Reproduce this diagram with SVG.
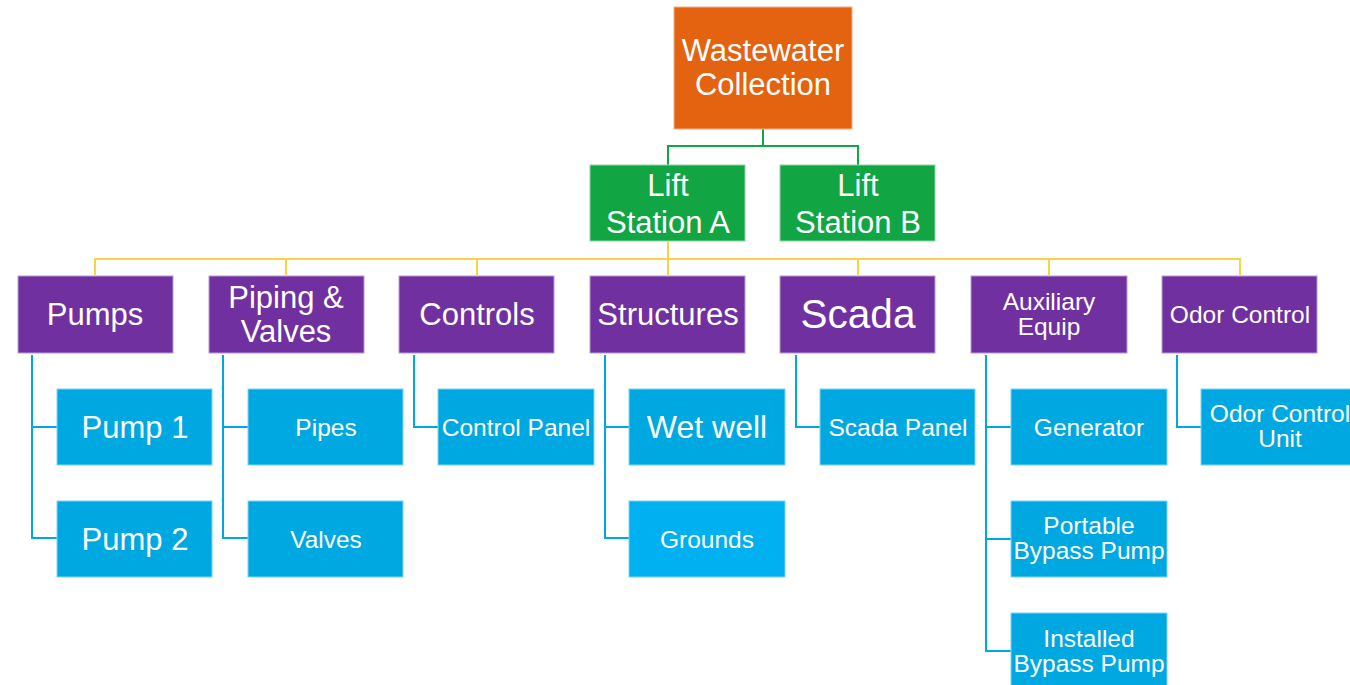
<svg xmlns="http://www.w3.org/2000/svg" width="1350" height="685" viewBox="0 0 1350 685">
  <style>
    text { font-family: "Liberation Sans", Arial, sans-serif; fill: #ffffff; text-anchor: middle; }
    .big { font-size: 31px; }
    .sm { font-size: 24.5px; }
    .root { fill: #E36311; stroke: #F4B183; stroke-width: 1; }
    .site { fill: #12A544; stroke: #8FD3A5; stroke-width: 1; }
    .cat { fill: #7030A0; stroke: #B79BD0; stroke-width: 1; }
    .item { fill: #00A8E2; stroke: #7FD4F1; stroke-width: 1; }
    .item2 { fill: #00B0F0; stroke: #7FD4F1; stroke-width: 1; }
    .lg { stroke: #12A544; stroke-width: 2; fill: none; }
    .ly { stroke: #F5D445; stroke-width: 2; fill: none; }
    .lb { stroke: #00A8E2; stroke-width: 2; fill: none; }
  </style>
  <rect width="1350" height="685" fill="#ffffff"/>

  <g id="connectors">
    <path class="lg" d="M763 129 V146 M668 165 V146 H858 V165"/>
    <path class="ly" d="M668 242 V259 M95 275 V259 H1240 V275 M286 259 V275 M477 259 V275 M668 259 V275 M858 259 V275 M1049 259 V275"/>
    <path class="lb" d="M32 355 V538 H57 M32 427 H57"/>
    <path class="lb" d="M223 355 V538 H248 M223 427 H248"/>
    <path class="lb" d="M414 355 V427 H438"/>
    <path class="lb" d="M605 355 V538 H629 M605 427 H629"/>
    <path class="lb" d="M796 355 V427 H820"/>
    <path class="lb" d="M986 355 V651 H1011 M986 427 H1011 M986 539 H1011"/>
    <path class="lb" d="M1177 355 V427 H1201"/>
  </g>

  <g id="wastewater-collection">
    <rect class="root" x="674" y="7" width="178" height="122"/>
    <text class="big" x="763" y="61">Wastewater</text>
    <text class="big" x="763" y="95">Collection</text>
  </g>

  <g id="lift-station-a">
    <rect class="site" x="590" y="165" width="155" height="76"/>
    <text class="big" x="668" y="196">Lift</text>
    <text class="big" x="668" y="233">Station A</text>
  </g>
  <g id="lift-station-b">
    <rect class="site" x="780" y="165" width="155" height="76"/>
    <text class="big" x="858" y="196">Lift</text>
    <text class="big" x="858" y="233">Station B</text>
  </g>

  <g id="pumps">
    <rect class="cat" x="18" y="276" width="155" height="77"/>
    <text class="big" x="95" y="325">Pumps</text>
  </g>
  <g id="piping-valves">
    <rect class="cat" x="209" y="276" width="155" height="77"/>
    <text class="big" x="286" y="308">Piping &amp;</text>
    <text class="big" x="286" y="342">Valves</text>
  </g>
  <g id="controls">
    <rect class="cat" x="399" y="276" width="155" height="77"/>
    <text class="big" x="477" y="325">Controls</text>
  </g>
  <g id="structures">
    <rect class="cat" x="590" y="276" width="155" height="77"/>
    <text class="big" x="668" y="325">Structures</text>
  </g>
  <g id="scada">
    <rect class="cat" x="780" y="276" width="155" height="77"/>
    <text x="858" y="328" font-size="40.5">Scada</text>
  </g>
  <g id="auxiliary-equip">
    <rect class="cat" x="971" y="276" width="156" height="77"/>
    <text class="sm" x="1049" y="310">Auxiliary</text>
    <text class="sm" x="1049" y="335">Equip</text>
  </g>
  <g id="odor-control">
    <rect class="cat" x="1162" y="276" width="155" height="77"/>
    <text class="sm" x="1240" y="323">Odor Control</text>
  </g>

  <g id="pump-1">
    <rect class="item" x="57" y="389" width="155" height="76"/>
    <text class="big" x="135" y="438">Pump 1</text>
  </g>
  <g id="pump-2">
    <rect class="item" x="57" y="501" width="155" height="76"/>
    <text class="big" x="135" y="550">Pump 2</text>
  </g>
  <g id="pipes">
    <rect class="item" x="248" y="389" width="155" height="76"/>
    <text class="sm" x="326" y="436">Pipes</text>
  </g>
  <g id="valves">
    <rect class="item" x="248" y="501" width="155" height="76"/>
    <text class="sm" x="326" y="548">Valves</text>
  </g>
  <g id="control-panel">
    <rect class="item" x="438" y="389" width="156" height="76"/>
    <text class="sm" x="516" y="436">Control Panel</text>
  </g>
  <g id="wet-well">
    <rect class="item" x="629" y="389" width="156" height="76"/>
    <text x="707" y="438" font-size="32">Wet well</text>
  </g>
  <g id="grounds">
    <rect class="item2" x="629" y="501" width="156" height="76"/>
    <text class="sm" x="707" y="548">Grounds</text>
  </g>
  <g id="scada-panel">
    <rect class="item" x="820" y="389" width="155" height="76"/>
    <text class="sm" x="898" y="436">Scada Panel</text>
  </g>
  <g id="generator">
    <rect class="item" x="1011" y="389" width="156" height="76"/>
    <text class="sm" x="1089" y="436">Generator</text>
  </g>
  <g id="portable-bypass-pump">
    <rect class="item" x="1011" y="501" width="156" height="76"/>
    <text class="sm" x="1089" y="534">Portable</text>
    <text class="sm" x="1089" y="559">Bypass Pump</text>
  </g>
  <g id="installed-bypass-pump">
    <rect class="item" x="1011" y="613" width="156" height="76"/>
    <text class="sm" x="1089" y="647">Installed</text>
    <text class="sm" x="1089" y="672">Bypass Pump</text>
  </g>
  <g id="odor-control-unit">
    <rect class="item" x="1201" y="389" width="155" height="76"/>
    <text class="sm" x="1280" y="422">Odor Control</text>
    <text class="sm" x="1280" y="447">Unit</text>
  </g>
</svg>
